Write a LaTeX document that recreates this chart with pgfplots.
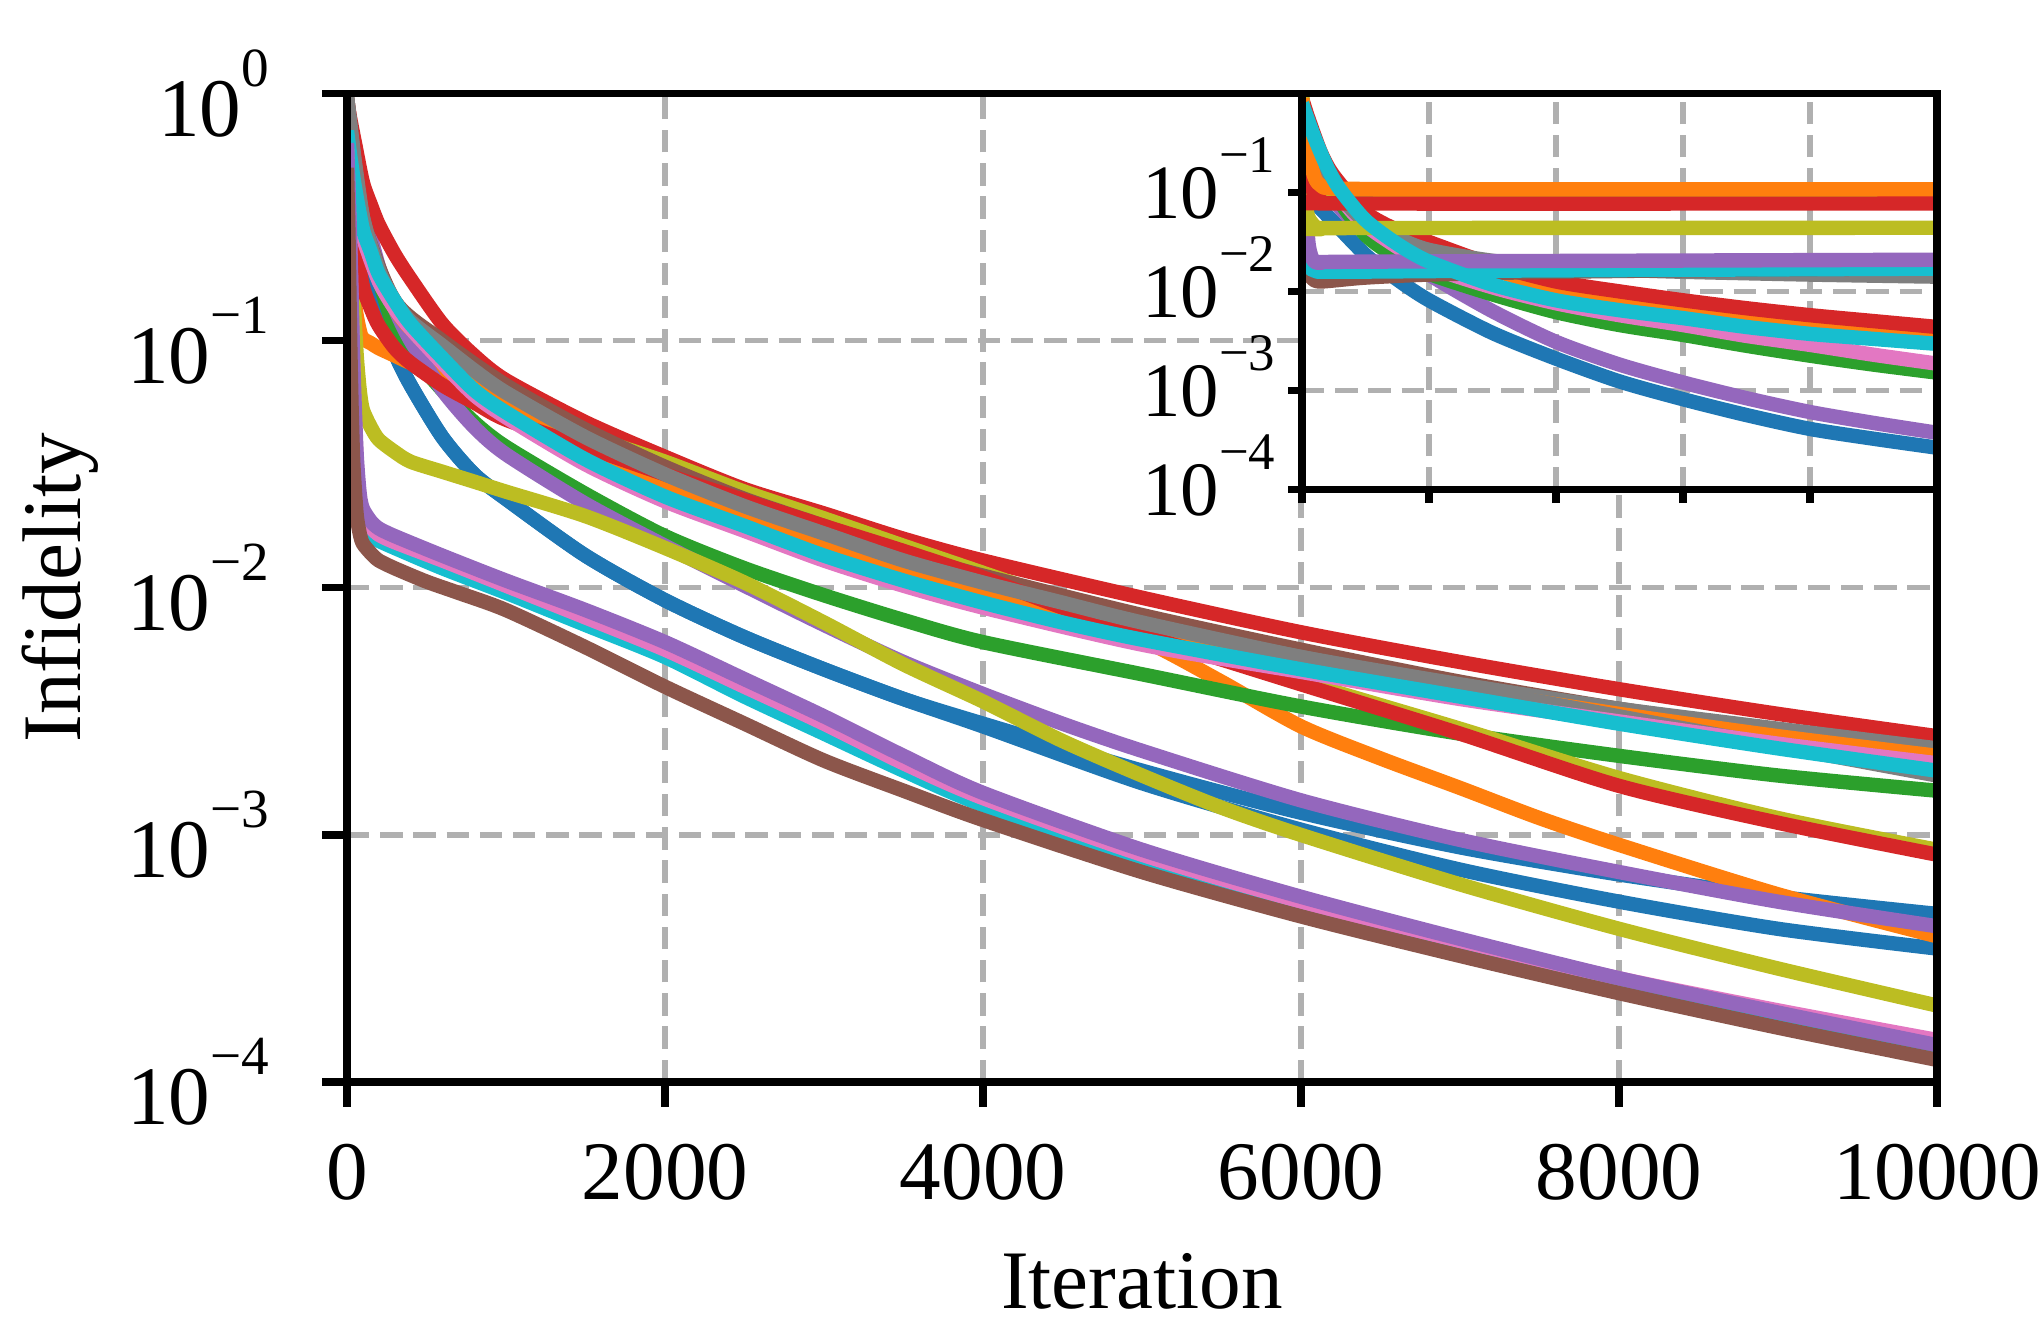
\documentclass[border=0pt]{standalone}
\usepackage{fontspec}
\setmainfont{Liberation Serif}
\usepackage{pgfplots}
\pgfplotsset{compat=1.18}

% tab10 palette
\definecolor{tblue}{HTML}{1F77B4}
\definecolor{torange}{HTML}{FF7F0E}
\definecolor{tgreen}{HTML}{2CA02C}
\definecolor{tred}{HTML}{D62728}
\definecolor{tpurple}{HTML}{9467BD}
\definecolor{tbrown}{HTML}{8C564B}
\definecolor{tpink}{HTML}{E377C2}
\definecolor{tgray}{HTML}{7F7F7F}
\definecolor{tolive}{HTML}{BCBD22}
\definecolor{tcyan}{HTML}{17BECF}
\definecolor{gridgray}{HTML}{B0B0B0}

% powers of ten for the tick labels
\newcommand{\mexp}[1]{10\raisebox{0.6em}{\fontsize{13.8pt}{13.8pt}\selectfont #1}}
\newcommand{\iexp}[1]{10\raisebox{0.6em}{\fontsize{13.2pt}{13.2pt}\selectfont #1}}

\pgfplotsset{
  curve/.style={line width=3.6pt, line join=round, no markers, smooth, tension=0.45},
}
\tikzset{axisframe/.style={line width=1.8pt}}

\begin{document}
\begin{tikzpicture}
\begin{axis}[
  at={(0pt,0pt)}, anchor=south west,
  scale only axis, width=397.5pt, height=247.1pt,
  xmin=0, xmax=10000, ymode=log, ymin=1e-4, ymax=1,
  clip mode=individual,
  scaled x ticks=false,
  xtick={0,2000,4000,6000,8000,10000},
  xticklabels={0,2000,4000,6000,8000,10000},
  ytick={1e-4,1e-3,1e-2,1e-1,1},
  yticklabels={\mexp{−4},\mexp{−3},\mexp{−2},\mexp{−1},\mexp{0}},
  yminorticks=false, xminorticks=false,
  xtick pos=left, ytick pos=left,
  tick align=outside,
  major tick length=6.25pt,
  tick style={black, line width=1.8pt},
  axis line style={line width=1.8pt},
  grid=major,
  major grid style={color=gridgray, line width=1.3pt, dash pattern=on 5.6pt off 2.7pt},
  tick label style={font=\fontsize{20.8pt}{24pt}\selectfont, inner sep=0pt},
  xticklabel style={anchor=base, yshift=-23.25pt},
  yticklabel style={anchor=east, xshift=-13pt},
  xlabel={Iteration}, ylabel={Infidelity},
  every axis x label/.style={at={(axis description cs:0.5,-0.229)}, anchor=base, font=\fontsize{20.8pt}{24pt}\selectfont},
  every axis y label/.style={at={(axis description cs:-0.1679,0.5)}, rotate=90, anchor=base, font=\fontsize{20.8pt}{24pt}\selectfont},
]
% blue (second run)
\addplot[curve, tblue] coordinates {(0,0.794)(50,0.398)(100,0.251)(150,0.178)(200,0.132)(300,0.0891)(400,0.0661)(600,0.0407)(800,0.0288)(1000,0.0229)(1500,0.0135)(2000,8.91e-3)(2500,6.31e-3)(3000,4.68e-3)(3500,3.55e-3)(4000,2.75e-3)(5000,1.62e-3)(6000,1.05e-3)(7000,7.24e-4)(8000,5.37e-4)(9000,4.17e-4)(10000,3.47e-4)};
% blue
\addplot[curve, tblue] coordinates {(0,0.794)(50,0.398)(100,0.251)(150,0.178)(200,0.132)(300,0.0891)(400,0.0661)(600,0.0407)(800,0.0288)(1000,0.0229)(1500,0.0135)(2000,8.91e-3)(2500,6.31e-3)(3000,4.68e-3)(3500,3.55e-3)(4000,2.82e-3)(5000,1.82e-3)(6000,1.23e-3)(7000,8.91e-4)(8000,6.92e-4)(9000,5.62e-4)(10000,4.79e-4)};
% orange (second run)
\addplot[curve, torange] coordinates {(0,0.447)(20,0.251)(50,0.141)(80,0.110)(100,0.102)(150,0.0977)(200,0.0933)(300,0.0871)(400,0.0813)(600,0.0724)(800,0.0646)(1000,0.0562)(1500,0.0380)(2000,0.0263)(2500,0.0191)(3000,0.0145)(3500,0.0115)(4000,9.55e-3)(4500,7.94e-3)(5000,6.17e-3)(5500,4.17e-3)(6000,2.75e-3)(6500,2.04e-3)(7000,1.55e-3)(7500,1.17e-3)(8000,9.12e-4)(9000,5.75e-4)(10000,3.89e-4)};
% green
\addplot[curve, tgreen] coordinates {(0,0.794)(50,0.447)(100,0.316)(200,0.178)(300,0.112)(400,0.0891)(600,0.0631)(800,0.0468)(1000,0.0372)(1500,0.0240)(2000,0.0162)(2500,0.0120)(3000,9.33e-3)(3500,7.41e-3)(4000,6.03e-3)(5000,4.47e-3)(6000,3.31e-3)(7000,2.57e-3)(8000,2.09e-3)(9000,1.74e-3)(10000,1.51e-3)};
% purple
\addplot[curve, tpurple] coordinates {(0,0.891)(50,0.501)(100,0.355)(200,0.200)(300,0.135)(400,0.100)(600,0.0631)(800,0.0447)(1000,0.0347)(1500,0.0219)(2000,0.0148)(2500,0.0102)(3000,7.08e-3)(3500,5.01e-3)(4000,3.72e-3)(4500,2.82e-3)(5000,2.19e-3)(6000,1.38e-3)(7000,9.55e-4)(8000,7.08e-4)(9000,5.37e-4)(10000,4.27e-4)};
% olive (second run)
\addplot[curve, tolive] coordinates {(0,0.955)(20,0.398)(40,0.158)(60,0.0891)(80,0.0631)(100,0.0525)(150,0.0447)(200,0.0398)(300,0.0355)(400,0.0324)(600,0.0295)(800,0.0269)(1000,0.0245)(1500,0.0195)(2000,0.0145)(2500,0.0105)(3000,7.24e-3)(3500,4.90e-3)(4000,3.47e-3)(4500,2.40e-3)(5000,1.74e-3)(5500,1.29e-3)(6000,1.00e-3)(7000,6.31e-4)(8000,4.17e-4)(9000,2.88e-4)(10000,2.04e-4)};
% red
\addplot[curve, tred] coordinates {(0,0.955)(20,0.794)(50,0.631)(100,0.437)(150,0.355)(200,0.295)(300,0.224)(400,0.178)(600,0.117)(800,0.0871)(1000,0.0692)(1500,0.0468)(2000,0.0339)(2500,0.0251)(3000,0.0200)(3500,0.0158)(4000,0.0129)(5000,9.12e-3)(6000,6.61e-3)(7000,5.01e-3)(8000,3.89e-3)(9000,3.09e-3)(10000,2.51e-3)};
% olive
\addplot[curve, tolive] coordinates {(0,0.891)(50,0.479)(100,0.282)(200,0.182)(300,0.138)(400,0.112)(600,0.0832)(800,0.0676)(1000,0.0575)(1500,0.0417)(2000,0.0324)(2500,0.0245)(3000,0.0191)(3500,0.0148)(4000,0.0115)(4500,8.91e-3)(5000,6.76e-3)(5500,5.25e-3)(6000,4.17e-3)(7000,2.69e-3)(8000,1.70e-3)(9000,1.17e-3)(10000,8.71e-4)};
% brown
\addplot[curve, tbrown] coordinates {(0,0.977)(100,0.316)(300,0.145)(600,0.100)(1000,0.0661)(1500,0.0437)(2000,0.0309)(2500,0.0229)(3000,0.0178)(3500,0.0138)(4000,0.0112)(5000,7.76e-3)(6000,5.62e-3)(7000,4.17e-3)(8000,3.24e-3)(9000,2.63e-3)(10000,2.14e-3)};
% gray
\addplot[curve, tgray] coordinates {(0,0.977)(100,0.316)(300,0.138)(600,0.0933)(1000,0.0603)(2000,0.0275)(3000,0.0158)(4000,0.0102)(5000,7.08e-3)(6000,5.25e-3)(7000,4.07e-3)(8000,3.24e-3)(9000,2.69e-3)(10000,2.24e-3)};
% orange
\addplot[curve, torange] coordinates {(0,0.891)(50,0.501)(100,0.302)(200,0.182)(300,0.135)(400,0.112)(600,0.0891)(800,0.0708)(1000,0.0575)(1500,0.0380)(2000,0.0269)(2500,0.0200)(3000,0.0151)(3500,0.0120)(4000,9.77e-3)(4500,8.13e-3)(5000,6.76e-3)(6000,5.01e-3)(7000,3.89e-3)(8000,3.09e-3)(9000,2.51e-3)(10000,2.09e-3)};
% red (second run)
\addplot[curve, tred] coordinates {(0,0.501)(20,0.380)(50,0.251)(100,0.166)(150,0.135)(200,0.115)(300,0.0933)(400,0.0813)(600,0.0661)(800,0.0562)(1000,0.0479)(1500,0.0372)(2000,0.0288)(2500,0.0226)(3000,0.0178)(3500,0.0141)(4000,0.0110)(4500,8.32e-3)(5000,6.46e-3)(5500,5.13e-3)(6000,4.07e-3)(7000,2.57e-3)(8000,1.58e-3)(9000,1.12e-3)(10000,8.32e-4)};
% gray (second run)
\addplot[curve, tgray] coordinates {(0,0.977)(20,0.759)(50,0.525)(100,0.316)(150,0.240)(200,0.191)(300,0.145)(400,0.120)(600,0.0955)(800,0.0759)(1000,0.0617)(1500,0.0407)(2000,0.0288)(2500,0.0214)(3000,0.0166)(3500,0.0129)(4000,0.0105)(4500,8.71e-3)(5000,7.24e-3)(6000,5.25e-3)(7000,3.98e-3)(8000,3.02e-3)(9000,2.29e-3)(10000,1.74e-3)};
% pink
\addplot[curve, tpink] coordinates {(0,0.631)(50,0.380)(100,0.263)(200,0.174)(300,0.135)(400,0.112)(600,0.0813)(800,0.0603)(1000,0.0490)(1500,0.0316)(2000,0.0224)(2500,0.0170)(3000,0.0129)(3500,0.0102)(4000,8.32e-3)(5000,5.89e-3)(6000,4.57e-3)(7000,3.55e-3)(8000,2.88e-3)(9000,2.34e-3)(10000,1.95e-3)};
% cyan
\addplot[curve, tcyan] coordinates {(0,0.708)(20,0.562)(50,0.417)(100,0.282)(150,0.229)(200,0.186)(300,0.145)(400,0.117)(600,0.0851)(800,0.0631)(1000,0.0513)(1500,0.0331)(2000,0.0234)(2500,0.0178)(3000,0.0135)(3500,0.0107)(4000,8.71e-3)(4500,7.24e-3)(5000,6.17e-3)(6000,4.68e-3)(7000,3.63e-3)(8000,2.82e-3)(9000,2.24e-3)(10000,1.82e-3)};
% cyan (second run)
\addplot[curve, tcyan] coordinates {(0,0.562)(20,0.200)(40,0.0631)(60,0.0282)(80,0.0200)(100,0.0178)(150,0.0162)(200,0.0155)(300,0.0145)(600,0.0120)(1000,9.55e-3)(1500,7.08e-3)(2000,5.25e-3)(2500,3.63e-3)(3000,2.57e-3)(3500,1.82e-3)(4000,1.32e-3)(5000,7.94e-4)(6000,5.01e-4)(7000,3.47e-4)(8000,2.45e-4)(9000,1.78e-4)(10000,1.35e-4)};
% pink (second run)
\addplot[curve, tpink] coordinates {(0,0.603)(20,0.234)(40,0.0741)(60,0.0331)(80,0.0224)(100,0.0195)(150,0.0176)(200,0.0164)(300,0.0153)(600,0.0129)(1000,0.0102)(1500,7.59e-3)(2000,5.62e-3)(2500,3.98e-3)(3000,2.82e-3)(3500,1.95e-3)(4000,1.41e-3)(5000,8.32e-4)(6000,5.37e-4)(7000,3.72e-4)(8000,2.63e-4)(9000,1.95e-4)(10000,1.48e-4)};
% purple (second run)
\addplot[curve, tpurple] coordinates {(0,0.631)(20,0.251)(40,0.0794)(60,0.0355)(80,0.0240)(100,0.0209)(150,0.0186)(200,0.0174)(300,0.0162)(600,0.0135)(1000,0.0107)(1500,8.13e-3)(2000,6.03e-3)(2500,4.27e-3)(3000,3.02e-3)(3500,2.09e-3)(4000,1.48e-3)(5000,8.71e-4)(6000,5.62e-4)(7000,3.80e-4)(8000,2.63e-4)(9000,1.91e-4)(10000,1.41e-4)};
% brown (second run)
\addplot[curve, tbrown] coordinates {(0,0.501)(10,0.251)(20,0.100)(30,0.0501)(40,0.0316)(60,0.0200)(80,0.0166)(100,0.0151)(150,0.0138)(200,0.0129)(300,0.0120)(500,0.0106)(700,9.55e-3)(1000,8.13e-3)(1500,5.75e-3)(2000,3.98e-3)(2500,2.82e-3)(3000,2.00e-3)(3500,1.51e-3)(4000,1.15e-3)(5000,7.08e-4)(6000,4.68e-4)(7000,3.24e-4)(8000,2.29e-4)(9000,1.66e-4)(10000,1.23e-4)};
% frame on top of the curves
\draw[axisframe] (rel axis cs:0,0) rectangle (rel axis cs:1,1);
\end{axis}

% inset
\begin{axis}[
  at={(238.75pt,148.2pt)}, anchor=south west,
  scale only axis, width=158.75pt, height=98.9pt,
  xmin=0, xmax=10000, ymode=log, ymin=1e-4, ymax=1,
  clip mode=individual,
  scaled x ticks=false,
  axis background/.style={fill=white},
  xtick={0,2000,4000,6000,8000,10000},
  xticklabels={},
  ytick={1e-4,1e-3,1e-2,1e-1,1},
  yticklabels={\iexp{−4},\iexp{−3},\iexp{−2},\iexp{−1},{}},
  yminorticks=false, xminorticks=false,
  xtick pos=left, ytick pos=left,
  tick align=outside,
  major tick length=3.5pt,
  tick style={black, line width=1.8pt},
  axis line style={line width=1.8pt},
  grid=major,
  major grid style={color=gridgray, line width=1.3pt, dash pattern=on 5.6pt off 2.7pt},
  tick label style={font=\fontsize{19.2pt}{22pt}\selectfont, inner sep=0pt},
  yticklabel style={anchor=base east, xshift=-3pt, yshift=-6.5pt},
]
\addplot[curve, tblue] coordinates {(0,0.501)(50,0.158)(100,0.105)(200,0.0794)(500,0.0501)(1000,0.0234)(1500,0.0132)(2000,8.13e-3)(3000,3.80e-3)(4000,2.09e-3)(5000,1.23e-3)(6000,8.13e-4)(7000,5.62e-4)(8000,4.07e-4)(9000,3.24e-4)(10000,2.63e-4)};
\addplot[curve, tpurple] coordinates {(0,0.631)(200,0.251)(500,0.0851)(1000,0.0398)(2000,0.0148)(3000,6.31e-3)(4000,3.09e-3)(5000,1.82e-3)(6000,1.20e-3)(7000,8.32e-4)(8000,6.03e-4)(9000,4.68e-4)(10000,3.72e-4)};
\addplot[curve, tgreen] coordinates {(0,0.631)(200,0.251)(500,0.100)(1000,0.0372)(1500,0.0219)(2000,0.0151)(3000,9.33e-3)(4000,6.17e-3)(5000,4.57e-3)(6000,3.63e-3)(7000,2.82e-3)(8000,2.24e-3)(9000,1.82e-3)(10000,1.51e-3)};
\addplot[curve, tpink] coordinates {(0,0.708)(200,0.316)(500,0.112)(1000,0.0468)(2000,0.0182)(3000,0.0110)(4000,7.59e-3)(5000,5.75e-3)(6000,4.57e-3)(7000,3.55e-3)(8000,2.88e-3)(9000,2.29e-3)(10000,1.86e-3)};
\addplot[curve, torange] coordinates {(0,0.891)(100,0.501)(300,0.224)(500,0.135)(1000,0.0589)(1500,0.0380)(2000,0.0282)(3000,0.0166)(4000,0.0110)(5000,8.51e-3)(6000,6.92e-3)(7000,5.75e-3)(8000,4.90e-3)(9000,4.27e-3)(10000,3.72e-3)};
\addplot[curve, tred] coordinates {(0,0.891)(100,0.562)(300,0.251)(500,0.148)(1000,0.0631)(1500,0.0417)(2000,0.0316)(3000,0.0186)(4000,0.0126)(5000,0.0100)(6000,8.13e-3)(7000,6.76e-3)(8000,5.75e-3)(9000,5.01e-3)(10000,4.37e-3)};
\addplot[curve, tgray] coordinates {(0,0.891)(100,0.316)(300,0.158)(500,0.107)(1000,0.0501)(1500,0.0347)(2000,0.0263)(3000,0.0204)(4000,0.0182)(5000,0.0166)(6000,0.0158)(8000,0.0148)(10000,0.0141)};
\addplot[curve, tbrown] coordinates {(0,0.158)(30,0.0501)(60,0.0200)(100,0.0151)(200,0.0129)(300,0.0126)(500,0.0129)(1000,0.0138)(2000,0.0148)(4000,0.0158)(7000,0.0166)(10000,0.0172)};
\addplot[curve, tcyan] coordinates {(0,0.251)(50,0.0501)(100,0.0191)(200,0.0162)(500,0.0158)(3000,0.0162)(10000,0.0170)};
\addplot[curve, tpurple] coordinates {(0,0.501)(50,0.100)(100,0.0316)(150,0.0224)(200,0.0200)(300,0.0195)(1000,0.0200)(10000,0.0209)};
\addplot[curve, tolive] coordinates {(0,0.955)(30,0.251)(60,0.0794)(100,0.0562)(200,0.0457)(300,0.0427)(500,0.0437)(10000,0.0440)};
\addplot[curve, tolive] coordinates {(0,0.955)(50,0.398)(100,0.178)(200,0.105)(300,0.0955)(500,0.0912)(10000,0.0912)};
\addplot[curve, tred] coordinates {(0,0.501)(50,0.251)(100,0.141)(200,0.0955)(300,0.0832)(500,0.0776)(10000,0.0776)};
\addplot[curve, torange] coordinates {(0,0.891)(50,0.501)(100,0.251)(200,0.141)(300,0.117)(500,0.110)(2000,0.108)(10000,0.108)};
\addplot[curve, tcyan] coordinates {(0,0.794)(200,0.355)(400,0.178)(600,0.107)(1000,0.0525)(1500,0.0302)(2000,0.0200)(3000,0.0117)(4000,8.13e-3)(5000,6.46e-3)(6000,5.37e-3)(7000,4.37e-3)(8000,3.72e-3)(9000,3.31e-3)(10000,2.95e-3)};
\draw[axisframe] (rel axis cs:0,0) rectangle (rel axis cs:1,1);
\end{axis}

\pgfresetboundingbox
\path[use as bounding box] (-86.75pt,-59.75pt) rectangle (423.25pt,270.5pt);
\end{tikzpicture}
\end{document}
